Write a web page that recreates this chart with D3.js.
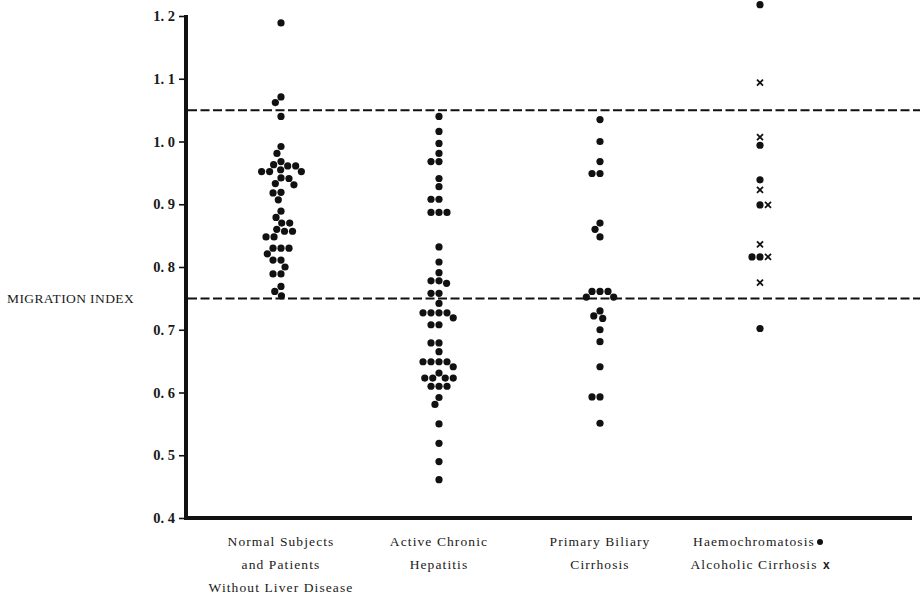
<!DOCTYPE html>
<html>
<head>
<meta charset="utf-8">
<script src="https://cdn.jsdelivr.net/npm/d3@7"></script>
<style>
  body { margin: 0; background: #fff; }
  svg { display: block; }
  text { fill: #1a1a1a; }
</style>
</head>
<body>
<div class="main"></div>
<script>
// Migration index per group
let normal = [1.189, 1.071, 1.062, 1.040, 0.992, 0.981, 0.968, 0.963, 0.961, 0.961,
  0.955, 0.952, 0.952, 0.952, 0.942, 0.941, 0.933, 0.931, 0.919, 0.918, 0.907,
  0.889, 0.879, 0.870, 0.870, 0.860, 0.857, 0.857, 0.848, 0.848, 0.830, 0.830,
  0.830, 0.821, 0.811, 0.811, 0.800, 0.789, 0.789, 0.769, 0.761, 0.754];

let activeChronic = [1.040, 1.016, 0.997, 0.981, 0.968, 0.968, 0.941, 0.928, 0.908,
  0.908, 0.887, 0.887, 0.887, 0.832, 0.808, 0.791, 0.778, 0.778, 0.774, 0.758,
  0.758, 0.742, 0.727, 0.727, 0.727, 0.727, 0.719, 0.708, 0.708, 0.679, 0.679,
  0.665, 0.649, 0.649, 0.649, 0.649, 0.641, 0.631, 0.623, 0.623, 0.623, 0.623,
  0.610, 0.610, 0.610, 0.592, 0.581, 0.550, 0.519, 0.490, 0.461];

let primaryBiliary = [1.035, 1.000, 0.968, 0.949, 0.949, 0.870, 0.860, 0.848, 0.761,
  0.761, 0.761, 0.752, 0.752, 0.730, 0.722, 0.718, 0.700, 0.681, 0.641, 0.593,
  0.593, 0.551];

let haemochromatosis = [1.218, 0.994, 0.939, 0.899, 0.816, 0.816, 0.702];
let alcoholic = [1.094, 1.007, 0.923, 0.899, 0.836, 0.816, 0.775];

let categories = [
  ["Normal Subjects", "and Patients", "Without Liver Disease"],
  ["Active Chronic", "Hepatitis"],
  ["Primary Biliary", "Cirrhosis"],
  ["Haemochromatosis", "Alcoholic Cirrhosis"]
];

let yTicks = [0.4, 0.5, 0.6, 0.7, 0.8, 0.9, 1.0, 1.1, 1.2];
let normalRange = [0.75, 1.05];
let yLabel = "MIGRATION INDEX";

let width = 922, height = 595;

let svg = d3.select("div.main").append("svg")
  .attr("width", width)
  .attr("height", height);

let y = d3.scaleLinear()
  .domain([0.4, 1.2])
  .range([518, 16]);

// group centres along the bottom
let centres = [281, 439, 600, 760];

let r = 3.6, gap = 8;

// simple beeswarm: put each point as near the centre line as it fits
function swarm(points) {
  let placed = [];
  points.forEach(function(p) {
    let py = y(p.v);
    let side = p.kind == "cross" ? 1 : -1;
    let near = placed.filter(q => Math.abs(q.y - py) < gap);
    let cands = [0];
    near.forEach(function(q) {
      let dx = Math.sqrt(gap * gap - (q.y - py) * (q.y - py));
      cands.push(q.dx - dx, q.dx + dx);
    });
    cands.sort((a, b) => Math.abs(a) - Math.abs(b) || side * (b - a));
    let dx = cands.find(c => near.every(q =>
      (q.dx - c) * (q.dx - c) + (q.y - py) * (q.y - py) >= gap * gap - 0.01));
    placed.push({ v: p.v, kind: p.kind, y: py, dx: dx });
  });
  return placed;
}

let groups = [
  normal.map(v => ({ v: v, kind: "dot" })),
  activeChronic.map(v => ({ v: v, kind: "dot" })),
  primaryBiliary.map(v => ({ v: v, kind: "dot" })),
  haemochromatosis.map(v => ({ v: v, kind: "dot" }))
    .concat(alcoholic.map(v => ({ v: v, kind: "cross" })))
];

// dashed reference lines
svg.selectAll("line.ref")
  .data(normalRange)
  .enter().append("line")
  .attr("class", "ref")
  .attr("x1", 188)
  .attr("x2", 920)
  .attr("y1", d => y(d))
  .attr("y2", d => y(d))
  .attr("stroke", "#111")
  .attr("stroke-width", 2)
  .attr("stroke-dasharray", "9,3.5");

// points
groups.forEach(function(g, i) {
  let pts = swarm(g.slice().sort((a, b) => b.v - a.v));
  let cx = centres[i];
  pts.forEach(function(p) {
    if (p.kind == "dot") {
      svg.append("circle")
        .attr("cx", cx + p.dx)
        .attr("cy", p.y)
        .attr("r", r)
        .attr("fill", "#111");
    } else {
      let s = 3;
      svg.append("path")
        .attr("d", "M" + (cx + p.dx - s) + "," + (p.y - s) + "L" + (cx + p.dx + s) + "," + (p.y + s) +
                   "M" + (cx + p.dx - s) + "," + (p.y + s) + "L" + (cx + p.dx + s) + "," + (p.y - s))
        .attr("stroke", "#111")
        .attr("stroke-width", 1.8)
        .attr("fill", "none");
    }
  });
});

// left axis
let yAxis = d3.axisLeft(y)
  .tickValues(yTicks)
  .tickSize(7)
  .tickFormat(d => d3.format(".1f")(d).replace(".", ". "));

let ax = svg.append("g")
  .attr("transform", "translate(186,0)")
  .call(yAxis);
ax.select(".domain").remove();
ax.selectAll(".tick line").attr("stroke", "#111").attr("stroke-width", 1.6);
ax.selectAll(".tick text")
  .attr("x", -11)
  .style("font-family", "'Liberation Serif', serif")
  .style("font-weight", "bold")
  .style("font-size", "14.5px")
  .attr("fill", "#1a1a1a");

// thick axis lines
svg.append("line")
  .attr("x1", 186).attr("x2", 186)
  .attr("y1", y(1.2) - 1).attr("y2", y(0.4) + 2)
  .attr("stroke", "#111").attr("stroke-width", 4);
svg.append("line")
  .attr("x1", 184).attr("x2", 912)
  .attr("y1", y(0.4)).attr("y2", y(0.4))
  .attr("stroke", "#111").attr("stroke-width", 4);

// y label
svg.append("text")
  .text(yLabel)
  .attr("x", 7)
  .attr("y", y(0.75) + 5)
  .style("font-family", "'Liberation Serif', serif")
  .style("font-size", "13.5px")
  .style("letter-spacing", "0.4px");

// category labels
categories.forEach(function(lines, i) {
  lines.forEach(function(t, j) {
    svg.append("text")
      .text(t)
      .attr("x", centres[i] + (i == 3 ? -6 : 0))
      .attr("y", 546 + j * 23)
      .attr("text-anchor", "middle")
      .style("font-family", "'Liberation Serif', serif")
      .style("font-size", "13.5px")
      .style("letter-spacing", "1.1px");
  });
});

// legend markers right after the last labels
let legendY = [546, 569];
svg.append("circle")
  .attr("cx", 820).attr("cy", legendY[0] - 4)
  .attr("r", 3).attr("fill", "#111");
svg.append("text")
  .text("x")
  .attr("x", 823)
  .attr("y", legendY[1])
  .style("font-family", "'Liberation Sans', sans-serif")
  .style("font-weight", "bold")
  .style("font-size", "12px");
</script>
</body>
</html>
